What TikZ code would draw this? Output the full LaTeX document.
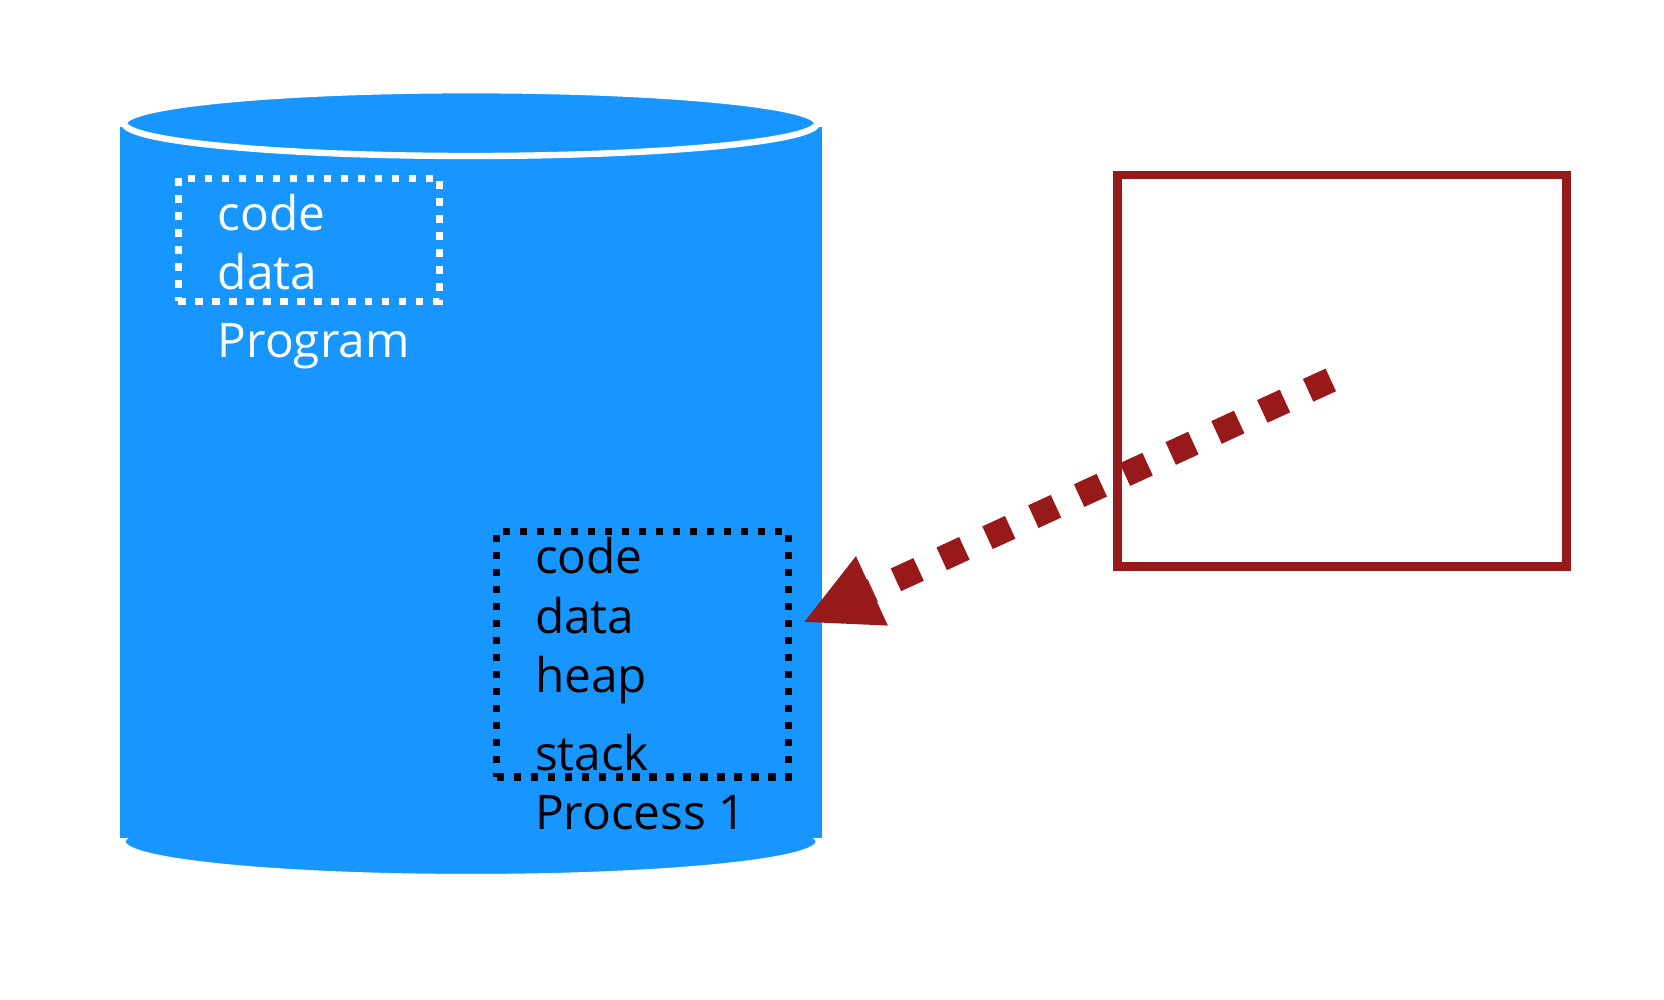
\documentclass[tikz,border=0pt]{standalone}
\usepackage{fontspec}
\setmainfont{Open Sans}
\usetikzlibrary{arrows.meta}
\definecolor{cylblue}{RGB}{22,150,254}
\definecolor{darkred}{RGB}{152,25,26}
\begin{document}
\begin{tikzpicture}[x=1pt,y=-1pt,
  lbl/.style={anchor=base west,inner sep=0pt,font=\fontsize{45}{54}\selectfont},
  dotbox/.style={draw=#1,line width=7pt,dash pattern=on 7pt off 9pt,inner sep=0pt,rectangle},
  redbox/.style={draw=darkred,line width=8pt,inner sep=0pt,rectangle},
  cylfill/.style={fill=cylblue},
  arrowline/.style={draw=darkred,line width=23.5pt,dash pattern=on 23.5pt off 24pt,
    -{Triangle[length=70pt,width=72pt,line width=0pt]}}
]
\useasboundingbox (0,0) rectangle (1568,942);
% cylinder
\fill[cylfill,draw=white,line width=3pt] (443.5,793) ellipse [x radius=326.5,y radius=32];
\fill[cylfill] (113,120) rectangle (775,790);
\fill[cylfill,draw=white,line width=6pt] (443.5,116) ellipse [x radius=326.5,y radius=31];
% program box
\node[dotbox=white,minimum width=246pt,minimum height=116pt] (prog) at (291,226) {};
\node[lbl,text=white] (pcode) at (205,217) {code};
\node[lbl,text=white] (pdata) at (205,273) {data};
\node[lbl,text=white] (pname) at (205,337) {Program};
% process box
\node[dotbox=black,minimum width=275pt,minimum height=231pt] (proc) at (605.5,616.5) {};
\node[lbl] (qcode) at (504,540) {code};
\node[lbl] (qdata) at (504,597) {data};
\node[lbl] (qheap) at (504,653) {heap};
\node[lbl] (qstack) at (504,726) {stack};
\node[lbl] (qname) at (504,782) {Process 1};
% red box
\node[redbox,minimum width=423pt,minimum height=369pt] (rbox) at (1264.5,349.5) {};
\coordinate (astart) at (1254,358);
\coordinate (atip) at (758,586);
\draw[arrowline] (astart) -- (atip);
\end{tikzpicture}
\end{document}
